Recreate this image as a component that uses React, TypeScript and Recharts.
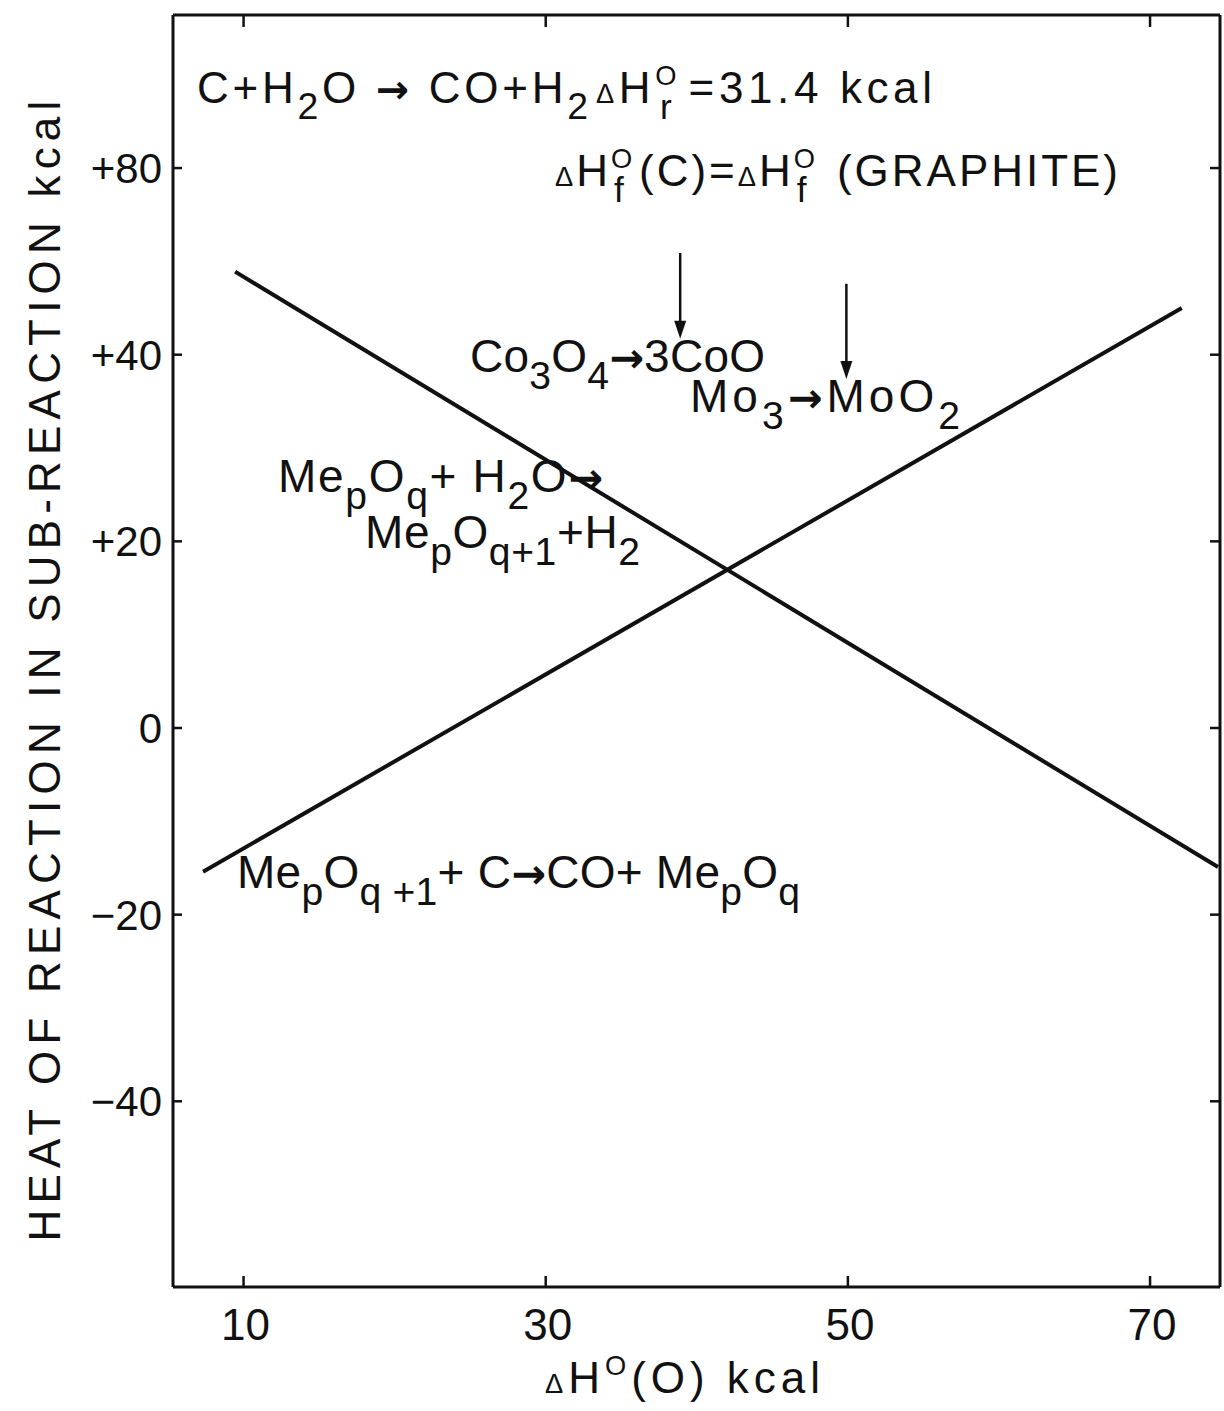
import { LineChart, Line, XAxis, YAxis, ReferenceLine } from "recharts";

const FONT = '"Liberation Sans", Arial, Helvetica, sans-serif';
const INK = "#111";

// x = ΔH°(O) kcal, y = heat of reaction in the sub-reaction (kcal)
const waterX = [9.44, 74.5];
const waterY = [48.9, -14.9];
const carbonX = [7.32, 72.1];
const carbonY = [-15.4, 45.0];

const xTicks = [10, 30, 50, 70];
const yTicks = [60, 40, 20, 0, -20, -40];
const yTickLabels = ["+80", "+40", "+20", "0", "−20", "−40"];

// the two down arrows over Co3O4 and MoO3
const arrowX = [38.9, 49.9];
const arrowTop = [50.9, 47.6];
const arrowTip = [41.7, 37.4];

const xDomain = [5.33, 74.63];
const yDomain = [-59.9, 76.4];

const waterData = waterX.map((x, i) => ({ x, y: waterY[i] }));
const carbonData = carbonX.map((x, i) => ({ x, y: carbonY[i] }));

const BottomTick = ({ x, y, payload }: any) => (
  <g>
    <line x1={x} x2={x} y1={y} y2={y - 11} stroke={INK} strokeWidth={2.5} />
    <text x={x + 2} y={y + 53} textAnchor="middle" fontSize={44} fontFamily={FONT} fill={INK}>
      {payload.value}
    </text>
  </g>
);

const TopTick = ({ x, y }: any) => (
  <line x1={x} x2={x} y1={y} y2={y + 12} stroke={INK} strokeWidth={2.5} />
);

const LeftTick = ({ x, y, payload }: any) => (
  <g>
    <line x1={x} x2={x + 9} y1={y} y2={y} stroke={INK} strokeWidth={2.5} />
    <text x={x - 11} y={y + 15} textAnchor="end" fontSize={42} fontFamily={FONT} fill={INK}>
      {yTickLabels[yTicks.indexOf(payload.value)]}
    </text>
  </g>
);

const RightTick = ({ x, y }: any) => (
  <line x1={x} x2={x - 10} y1={y} y2={y} stroke={INK} strokeWidth={2.5} />
);

const DownArrow = (p: any) => {
  const { x1, y1, x2, y2 } = p;
  return (
    <g>
      <line x1={x1} y1={y1} x2={x2} y2={y2 - 14} stroke={INK} strokeWidth={2.5} />
      <polygon points={`${x2 - 6},${y2 - 18} ${x2 + 6},${y2 - 18} ${x2},${y2}`} fill={INK} />
    </g>
  );
};

// n = normal, b = subscript, p = superscript, s = subscript stacked under the previous superscript,
// d = small delta, a = reaction arrow
type Part = [string, "n" | "b" | "p" | "s" | "d" | "a"];

function Chem({ x, y, size, parts, len }: { x: number; y: number; size: number; parts: Part[]; len?: number }) {
  let shift = 0;
  let afterStack = false;
  return (
    <text
      x={x}
      y={y}
      fontSize={size}
      fontFamily={FONT}
      fill={INK}
      textLength={len}
      lengthAdjust={len ? "spacing" : undefined}
    >
      {parts.map(([t, k], i) => {
        let target = 0;
        let fs = size;
        let dx = 0;
        let family: string | undefined;
        let weight: string | undefined;
        if (k === "b") { target = 0.36 * size; fs = 0.85 * size; }
        if (k === "p") { target = -0.42 * size; fs = 0.62 * size; }
        if (k === "s") { target = 0.36 * size; fs = 0.8 * size; dx = -0.48 * size; }
        if (k === "d") { fs = 0.62 * size; }
        if (k === "a") { family = '"DejaVu Sans", sans-serif'; weight = "bold"; fs = 0.9 * size; }
        if (afterStack) { dx += 0.28 * size; afterStack = false; }
        if (k === "s") afterStack = true;
        const dy = target - shift;
        shift = target;
        return (
          <tspan key={i} dy={dy} dx={dx || undefined} fontSize={fs} fontFamily={family} fontWeight={weight}>
            {t}
          </tspan>
        );
      })}
    </text>
  );
}

export default function App() {
  return (
    <div style={{ position: "absolute", left: 0, top: 0, width: 1224, height: 1411, background: "#fff" }}>
      <LineChart width={1224} height={1411} margin={{ top: 0, right: 0, bottom: 0, left: 0 }}>
        <XAxis
          dataKey="x"
          type="number"
          domain={xDomain}
          ticks={xTicks}
          interval={0}
          allowDataOverflow
          height={124}
          tickSize={0}
          tickMargin={0}
          tickLine={false}
          axisLine={{ stroke: INK, strokeWidth: 3 }}
          tick={<BottomTick />}
        />
        <XAxis
          xAxisId="top"
          orientation="top"
          dataKey="x"
          type="number"
          domain={xDomain}
          ticks={xTicks}
          interval={0}
          allowDataOverflow
          height={15}
          tickSize={0}
          tickMargin={0}
          tickLine={false}
          axisLine={{ stroke: INK, strokeWidth: 3 }}
          tick={<TopTick />}
        />
        <YAxis
          type="number"
          domain={yDomain}
          ticks={yTicks}
          interval={0}
          allowDataOverflow
          width={173}
          tickSize={0}
          tickMargin={0}
          tickLine={false}
          axisLine={{ stroke: INK, strokeWidth: 3 }}
          tick={<LeftTick />}
        />
        <YAxis
          yAxisId="right"
          orientation="right"
          type="number"
          domain={yDomain}
          ticks={yTicks}
          interval={0}
          allowDataOverflow
          width={4}
          tickSize={0}
          tickMargin={0}
          tickLine={false}
          axisLine={{ stroke: INK, strokeWidth: 3 }}
          tick={<RightTick />}
        />
        {arrowX.map((ax, i) => (
          <ReferenceLine
            key={i}
            segment={[{ x: ax, y: arrowTop[i] }, { x: ax, y: arrowTip[i] }]}
            shape={<DownArrow />}
          />
        ))}
        <Line data={waterData} dataKey="y" type="linear" stroke={INK} strokeWidth={4} dot={false} isAnimationActive={false} />
        <Line data={carbonData} dataKey="y" type="linear" stroke={INK} strokeWidth={4} dot={false} isAnimationActive={false} />
      </LineChart>
      <svg width={1224} height={1411} style={{ position: "absolute", left: 0, top: 0, pointerEvents: "none" }}>
        <text
          transform="translate(60,668) rotate(-90)"
          textAnchor="middle"
          fontSize={44}
          letterSpacing={6.2}
          fontFamily={FONT}
          fill={INK}
        >
          HEAT OF REACTION IN SUB-REACTION kcal
        </text>
        <Chem x={545} y={1393} size={44} len={275} parts={[["Δ", "d"], ["H", "n"], ["O", "p"], ["(O) kcal", "n"]]} />
        <Chem
          x={197}
          y={103}
          size={44}
          len={391}
          parts={[["C+H", "n"], ["2", "b"], ["O ", "n"], ["→", "a"], [" CO+H", "n"], ["2", "b"]]}
        />
        <Chem
          x={596}
          y={103}
          size={44}
          len={336}
          parts={[["Δ", "d"], ["H", "n"], ["O", "p"], ["r", "s"], ["=31.4 kcal", "n"]]}
        />
        <Chem
          x={555}
          y={186}
          size={44}
          len={563}
          parts={[
            ["Δ", "d"], ["H", "n"], ["O", "p"], ["f", "s"], ["(C)=", "n"],
            ["Δ", "d"], ["H", "n"], ["O", "p"], ["f", "s"], [" (GRAPHITE)", "n"],
          ]}
        />
        <Chem x={470} y={372} size={46} len={295} parts={[["Co", "n"], ["3", "b"], ["O", "n"], ["4", "b"], ["→", "a"], ["3CoO", "n"]]} />
        <Chem x={690} y={412} size={46} len={270} parts={[["Mo", "n"], ["3", "b"], ["→", "a"], ["MoO", "n"], ["2", "b"]]} />
        <Chem
          x={278}
          y={492}
          size={46}
          len={325}
          parts={[["Me", "n"], ["p", "b"], ["O", "n"], ["q", "b"], ["+ H", "n"], ["2", "b"], ["O", "n"], ["→", "a"]]}
        />
        <Chem
          x={365}
          y={548}
          size={46}
          len={275}
          parts={[["Me", "n"], ["p", "b"], ["O", "n"], ["q+1", "b"], ["+H", "n"], ["2", "b"]]}
        />
        <Chem
          x={237}
          y={888}
          size={46}
          len={563}
          parts={[
            ["Me", "n"], ["p", "b"], ["O", "n"], ["q +1", "b"], ["+ C", "n"], ["→", "a"], ["CO+ Me", "n"], ["p", "b"], ["O", "n"], ["q", "b"],
          ]}
        />
      </svg>
    </div>
  );
}
